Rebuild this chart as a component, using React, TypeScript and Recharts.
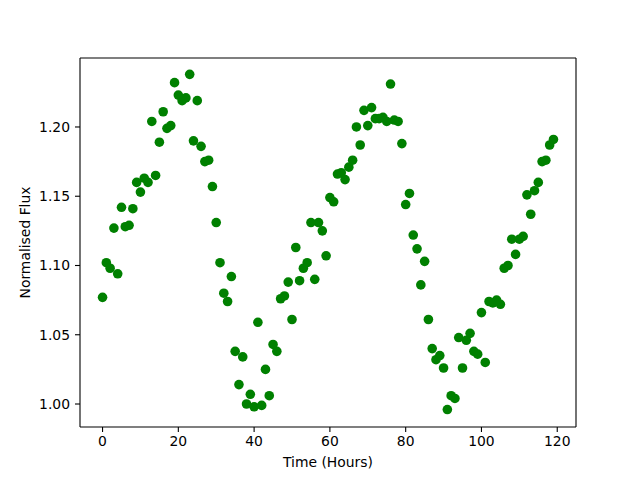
import React from 'react';
import { ScatterChart, Scatter, XAxis, YAxis, Label, ReferenceLine } from 'recharts';

const hours = [
  0, 1, 2, 3, 4, 5, 6, 7, 8, 9, 10, 11, 12, 13, 14, 15, 16, 17, 18, 19,
  20, 21, 22, 23, 24, 25, 26, 27, 28, 29, 30, 31, 32, 33, 34, 35, 36, 37, 38, 39,
  40, 41, 42, 43, 44, 45, 46, 47, 48, 49, 50, 51, 52, 53, 54, 55, 56, 57, 58, 59,
  60, 61, 62, 63, 64, 65, 66, 67, 68, 69, 70, 71, 72, 73, 74, 75, 76, 77, 78, 79,
  80, 81, 82, 83, 84, 85, 86, 87, 88, 89, 90, 91, 92, 93, 94, 95, 96, 97, 98, 99,
  100, 101, 102, 103, 104, 105, 106, 107, 108, 109, 110, 111, 112, 113, 114, 115, 116, 117, 118, 119,
];

const flux = [
  1.077, 1.102, 1.098, 1.127, 1.094, 1.142, 1.128, 1.129, 1.141, 1.160,
  1.153, 1.163, 1.160, 1.204, 1.165, 1.189, 1.211, 1.199, 1.201, 1.232,
  1.223, 1.219, 1.221, 1.238, 1.190, 1.219, 1.186, 1.175, 1.176, 1.157,
  1.131, 1.102, 1.080, 1.074, 1.092, 1.038, 1.014, 1.034, 1.000, 1.007,
  0.998, 1.059, 0.999, 1.025, 1.006, 1.043, 1.038, 1.076, 1.078, 1.088,
  1.061, 1.113, 1.089, 1.098, 1.102, 1.131, 1.090, 1.131, 1.125, 1.107,
  1.149, 1.146, 1.166, 1.167, 1.162, 1.171, 1.176, 1.200, 1.187, 1.212,
  1.201, 1.214, 1.206, 1.206, 1.207, 1.204, 1.231, 1.205, 1.204, 1.188,
  1.144, 1.152, 1.122, 1.112, 1.086, 1.103, 1.061, 1.040, 1.032, 1.035,
  1.026, 0.996, 1.006, 1.004, 1.048, 1.026, 1.046, 1.051, 1.038, 1.036,
  1.066, 1.030, 1.074, 1.073, 1.075, 1.072, 1.098, 1.100, 1.119, 1.108,
  1.119, 1.121, 1.151, 1.137, 1.154, 1.160, 1.175, 1.176, 1.187, 1.191,
];

const xTicks = [0, 20, 40, 60, 80, 100, 120];
const yTicks = [1.0, 1.05, 1.1, 1.15, 1.2];

const data = hours.map((t, i) => ({ t, flux: flux[i] }));

const font = { fontFamily: 'DejaVu Sans', fontSize: 13.9, fill: '#000' };
const axisStroke = { stroke: '#000', strokeWidth: 1.1 };
const xDomain = [-5.95, 124.95];
const yDomain = [0.9834, 1.2498];

export default function App() {
  return (
    <div style={{ position: 'absolute', left: 0, top: 0, width: 640, height: 480, background: '#fff' }}>
      <ScatterChart width={640} height={480} margin={{ top: 58, right: 64, bottom: 0, left: 0 }}>
        <XAxis
          type="number"
          dataKey="t"
          domain={xDomain}
          ticks={xTicks}
          allowDataOverflow
          height={53}
          tick={font}
          tickSize={5}
          tickMargin={4}
          axisLine={axisStroke}
          tickLine={axisStroke}
        >
          <Label
            content={() => (
              <text x={328} y={467} textAnchor="middle" style={font as any} fill="#000">
                Time (Hours)
              </text>
            )}
          />
        </XAxis>
        <YAxis
          type="number"
          dataKey="flux"
          domain={yDomain}
          ticks={yTicks}
          allowDataOverflow
          width={80}
          tick={font}
          tickSize={5}
          tickMargin={5}
          tickFormatter={(v: number) => v.toFixed(2)}
          axisLine={axisStroke}
          tickLine={axisStroke}
        >
          <Label
            content={() => (
              <text
                x={30}
                y={242.5}
                textAnchor="middle"
                transform="rotate(-90 30 242.5)"
                style={font as any}
                fill="#000"
              >
                Normalised Flux
              </text>
            )}
          />
        </YAxis>
        <ReferenceLine y={yDomain[1]} stroke="#000" strokeWidth={1.1} ifOverflow="visible" />
        <ReferenceLine x={xDomain[1]} stroke="#000" strokeWidth={1.1} ifOverflow="visible" />
        <Scatter
          data={data}
          isAnimationActive={false}
          shape={(p: any) => <circle cx={p.cx} cy={p.cy} r={4.8} fill="#008000" />}
        />
      </ScatterChart>
    </div>
  );
}
